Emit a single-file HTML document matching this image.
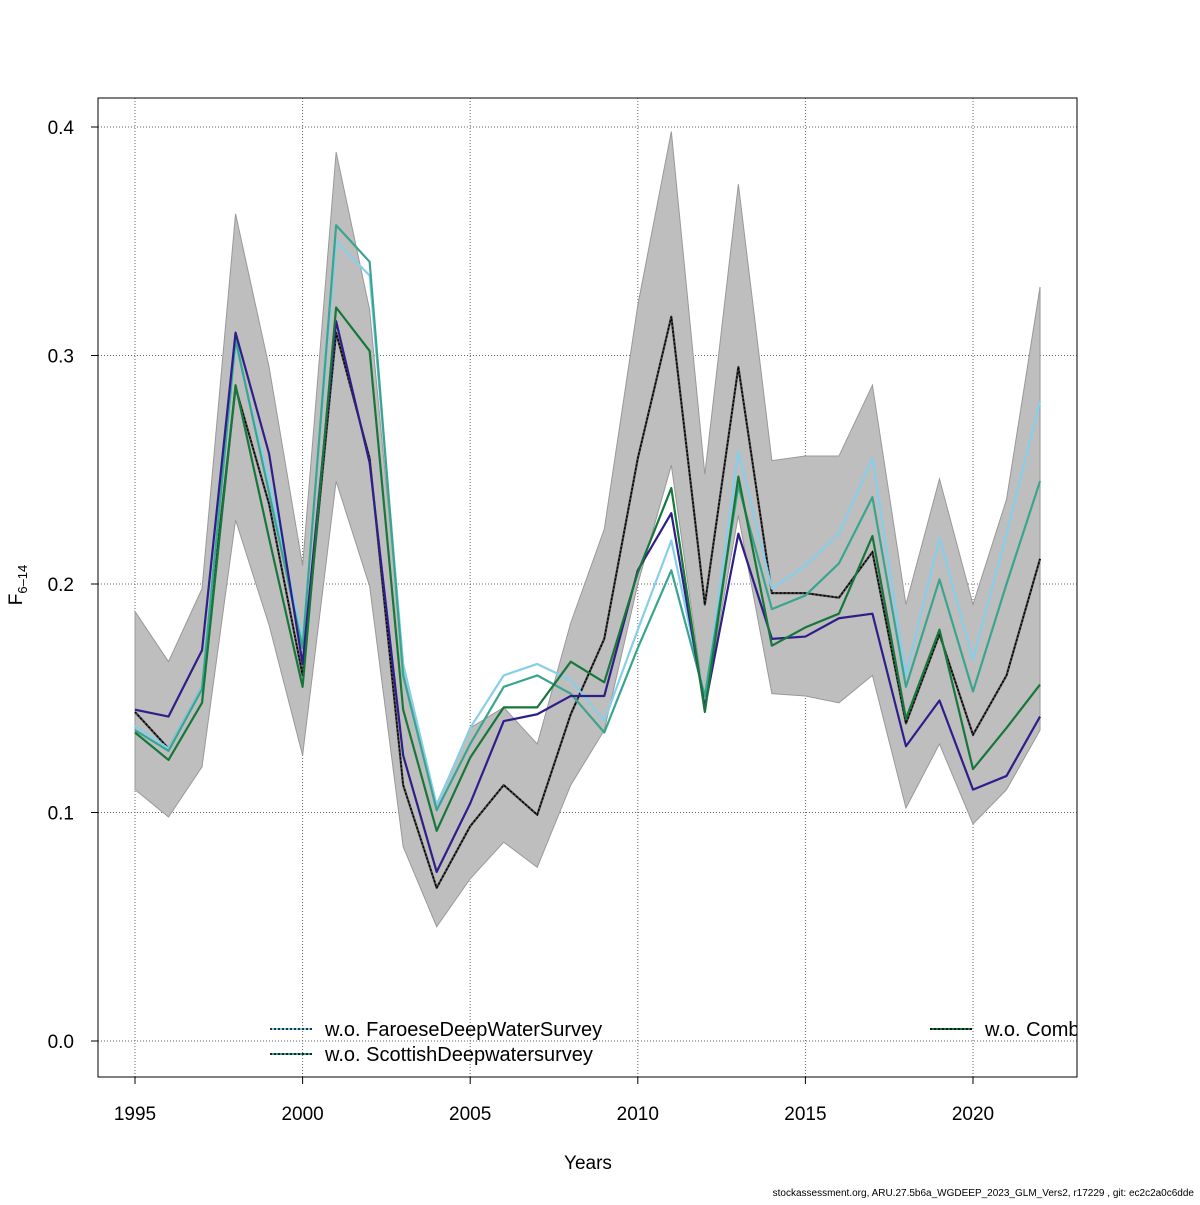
<!DOCTYPE html>
<html><head><meta charset="utf-8"><style>
html,body{margin:0;padding:0;background:#fff;}
svg text{font-family:"Liberation Sans",sans-serif;}
</style></head><body>
<svg id="chart" width="1200" height="1200" xmlns="http://www.w3.org/2000/svg">
<rect x="0" y="0" width="1200" height="1200" fill="#fff"/>
<g id="grid"></g>
<g id="band"></g>
<g id="lines"></g>
<g id="axes"></g>
<rect x="98" y="98" width="979" height="979" fill="none" stroke="#000" stroke-width="1"/>
<text x="588" y="1169" font-size="19" text-anchor="middle">Years</text>
<text transform="translate(22,585) rotate(-90)" font-size="19" text-anchor="middle">F<tspan font-size="13" dy="5">6–14</tspan></text>
<text x="1194" y="1196" font-size="10" text-anchor="end">stockassessment.org, ARU.27.5b6a_WGDEEP_2023_GLM_Vers2, r17229 , git: ec2c2a0c6dde</text>
<g>
<line x1="270" y1="1029" x2="312" y2="1029" stroke="#87CEEB" stroke-width="2"/>
<line x1="270" y1="1029" x2="312" y2="1029" stroke="#000" stroke-width="1.5" stroke-dasharray="2,2"/>
<text x="325" y="1036" font-size="20">w.o. FaroeseDeepWaterSurvey</text>
<line x1="270" y1="1054" x2="312" y2="1054" stroke="#3AA58E" stroke-width="2"/>
<line x1="270" y1="1054" x2="312" y2="1054" stroke="#000" stroke-width="1.5" stroke-dasharray="2,2"/>
<text x="325" y="1061" font-size="20">w.o. ScottishDeepwatersurvey</text>
<line x1="930" y1="1029" x2="972" y2="1029" stroke="#17773A" stroke-width="2"/>
<line x1="930" y1="1029" x2="972" y2="1029" stroke="#000" stroke-width="1.5" stroke-dasharray="2,2"/>
<svg x="0" y="0" width="1077" height="1200" overflow="hidden"><text x="985" y="1036" font-size="20">w.o. Comb</text></svg>
</g>
</svg>
<script>
const years=[1995,1996,1997,1998,1999,2000,2001,2002,2003,2004,2005,2006,2007,2008,2009,2010,2011,2012,2013,2014,2015,2016,2017,2018,2019,2020,2021,2022];
const baseFit=[0.144,0.128,0.155,0.286,0.235,0.160,0.310,0.255,0.112,0.067,0.094,0.112,0.099,0.143,0.176,0.255,0.317,0.191,0.295,0.196,0.196,0.194,0.214,0.139,0.178,0.134,0.160,0.211];
const upper=[0.188,0.166,0.198,0.362,0.295,0.208,0.389,0.320,0.165,0.104,0.137,0.146,0.130,0.183,0.224,0.322,0.398,0.248,0.375,0.254,0.256,0.256,0.287,0.191,0.246,0.191,0.237,0.330];
const lower=[0.110,0.098,0.120,0.228,0.182,0.125,0.245,0.199,0.085,0.050,0.071,0.087,0.076,0.112,0.136,0.200,0.252,0.147,0.230,0.152,0.151,0.148,0.160,0.102,0.130,0.095,0.110,0.136];
const purple=[0.145,0.142,0.171,0.310,0.257,0.165,0.315,0.253,0.125,0.074,0.104,0.140,0.143,0.151,0.151,0.206,0.231,0.146,0.222,0.176,0.177,0.185,0.187,0.129,0.149,0.110,0.116,0.142];
const faroese=[0.138,0.128,0.155,0.305,0.245,0.175,0.350,0.335,0.165,0.103,0.137,0.160,0.165,0.158,0.140,0.180,0.219,0.150,0.258,0.198,0.208,0.222,0.255,0.160,0.220,0.167,0.222,0.280];
const scottish=[0.136,0.127,0.154,0.307,0.240,0.172,0.357,0.341,0.160,0.101,0.130,0.155,0.160,0.152,0.135,0.172,0.206,0.151,0.243,0.189,0.195,0.209,0.238,0.155,0.202,0.153,0.200,0.245];
const comb=[0.135,0.123,0.148,0.287,0.220,0.155,0.321,0.302,0.145,0.092,0.124,0.146,0.146,0.166,0.157,0.205,0.242,0.144,0.247,0.173,0.181,0.187,0.221,0.141,0.180,0.119,0.137,0.156];
const xTicks=[1995,2000,2005,2010,2015,2020];
const yTicks=[0.0,0.1,0.2,0.3,0.4];
const yTickLabels=["0.0","0.1","0.2","0.3","0.4"];

const NS="http://www.w3.org/2000/svg";
function xs(y){return 135+(y-1995)*(973-135)/25;}
function ys(v){return 1041-v*2285;}
function mk(tag,attrs,parent){const e=document.createElementNS(NS,tag);for(const k in attrs)e.setAttribute(k,attrs[k]);parent.appendChild(e);return e;}
const grid=document.getElementById('grid'),axes=document.getElementById('axes'),band=document.getElementById('band'),lines=document.getElementById('lines');
xTicks.forEach(t=>{
 const g=mk('line',{x1:xs(t),x2:xs(t),y1:98,y2:1077,stroke:'#666','stroke-dasharray':'1,2','stroke-width':1},grid);
 
 
 const tk=mk('line',{x1:xs(t),x2:xs(t),y1:1077,y2:1084,stroke:'#000'},axes);
 
 
 const tx=mk('text',{x:xs(t),y:1120,'font-size':19,'text-anchor':'middle'},axes);
 tx.textContent=t;
 
 
});
yTicks.forEach((t,i)=>{
 const g=mk('line',{x1:98,x2:1077,y1:ys(t),y2:ys(t),stroke:'#666','stroke-dasharray':'1,2','stroke-width':1},grid);
 
 
 const tk=mk('line',{x1:91,x2:98,y1:ys(t),y2:ys(t),stroke:'#000'},axes);
 
 
 const tx=mk('text',{x:74,y:ys(t)+7,'font-size':19,'text-anchor':'end'},axes);
 tx.textContent=yTickLabels[i];
 
 
});
let pts=years.map((y,i)=>xs(y)+','+ys(upper[i]));
for(let i=years.length-1;i>=0;i--)pts.push(xs(years[i])+','+ys(lower[i]));
const poly=mk('polygon',{points:pts.join(' '),fill:'#bebebe',stroke:'#999','stroke-width':1},band);


function line(vals,color,name,dotted){
 const p=years.map((y,i)=>xs(y)+','+ys(vals[i])).join(' ');
 const l=mk('polyline',{points:p,fill:'none',stroke:color,'stroke-width':2.2,'stroke-linejoin':'round'},lines);
 
 
 if(dotted){const d=mk('polyline',{points:p,fill:'none',stroke:'#000','stroke-width':1.5,'stroke-dasharray':'2,2'},lines);
 
 }
}
line(baseFit,'#444','base-fit-line',true);
line(faroese,'#87CEEB','faroese-line',false);
line(scottish,'#3AA58E','scottish-line',false);
line(purple,'#2E1E8A','other-line',false);
line(comb,'#17773A','comb-line',false);
</script>
</body></html>
